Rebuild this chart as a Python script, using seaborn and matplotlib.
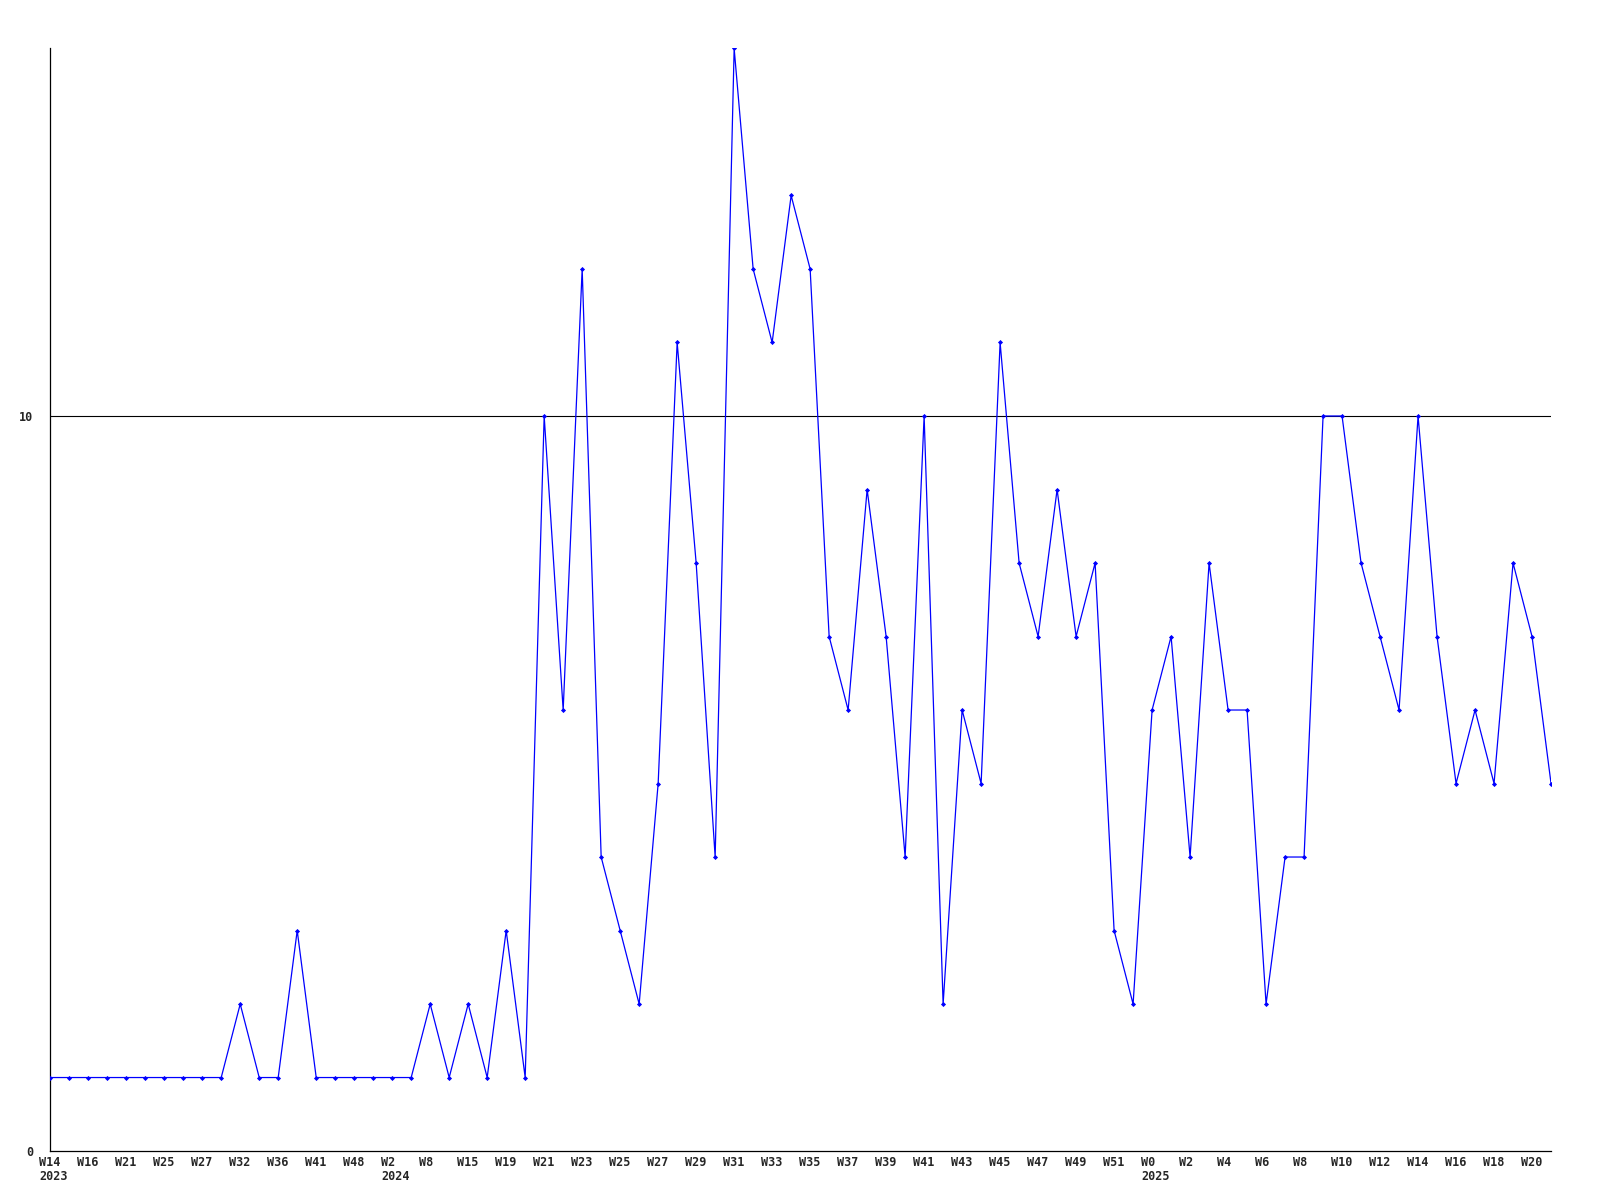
import numpy as np
import pandas as pd
import seaborn as sns
import matplotlib.pyplot as plt
import matplotlib.transforms as mtransforms

# weekly counts, one value per week shown on the chart
counts = [1, 1, 1, 1, 1, 1, 1, 1, 1, 1,
          2, 1, 1, 3, 1, 1, 1, 1, 1, 1,
          2, 1, 2, 1, 3, 1, 10, 6, 12, 4,
          3, 2, 5, 11, 8, 4, 15, 12, 11, 13,
          12, 7, 6, 9, 7, 4, 10, 2, 6, 5,
          11, 8, 7, 9, 7, 8, 3, 2, 6, 7,
          4, 8, 6, 6, 2, 4, 4, 10, 10, 8,
          7, 6, 10, 7, 5, 6, 5, 8, 7, 5]

# labels are only printed on every second week
week_labels = ['W14', 'W16', 'W21', 'W25', 'W27', 'W32', 'W36', 'W41', 'W48', 'W2',
               'W8', 'W15', 'W19', 'W21', 'W23', 'W25', 'W27', 'W29', 'W31', 'W33',
               'W35', 'W37', 'W39', 'W41', 'W43', 'W45', 'W47', 'W49', 'W51', 'W0',
               'W2', 'W4', 'W6', 'W8', 'W10', 'W12', 'W14', 'W16', 'W18', 'W20']
year_labels = {0: '2023', 9: '2024', 29: '2025'}

y_ticks = [0, 10]

df = pd.DataFrame({'week': np.arange(len(counts)), 'count': counts})

sns.set_style('white')
plt.rcParams['font.family'] = ['DejaVu Sans Mono', 'DejaVu Sans']

fig = plt.figure(figsize=(16, 12), dpi=100)
ax = fig.add_axes([0.0314, 0.0408, 0.9380, 0.9188])

ax.axhline(10, color='black', lw=0.8, zorder=1)
sns.lineplot(data=df, x='week', y='count', ax=ax, color='#0000ff', lw=0.9,
             marker='D', markersize=2.6, markeredgewidth=0, zorder=3)

ax.set_xlim(0, len(counts) - 1)
ax.set_ylim(0, 15)

labels = []
for i, w in enumerate(week_labels):
    labels.append(w + ('\n' + year_labels[i] if i in year_labels else ''))
ax.set_xticks(np.arange(0, len(counts), 2))
ax.set_xticklabels(labels, fontsize=8.5, fontweight='bold', ha='left',
                   va='top', multialignment='left', linespacing=1.15)

ax.set_yticks(y_ticks)
ax.set_yticklabels([str(v) for v in y_ticks], fontsize=8.5, fontweight='bold')

ax.tick_params(axis='x', length=0, pad=3.5)
ax.tick_params(axis='y', length=0, pad=12)
ax.set_xlabel('')
ax.set_ylabel('')

# week labels start a little left of their point
shift = mtransforms.ScaledTranslation(-11 / 100, 0, fig.dpi_scale_trans)
for t in ax.get_xticklabels():
    t.set_transform(t.get_transform() + shift)

for s in ['top', 'right']:
    ax.spines[s].set_visible(False)
for s in ['left', 'bottom']:
    ax.spines[s].set_color('black')
    ax.spines[s].set_linewidth(0.9)

fig.savefig('out.png', dpi=100)
